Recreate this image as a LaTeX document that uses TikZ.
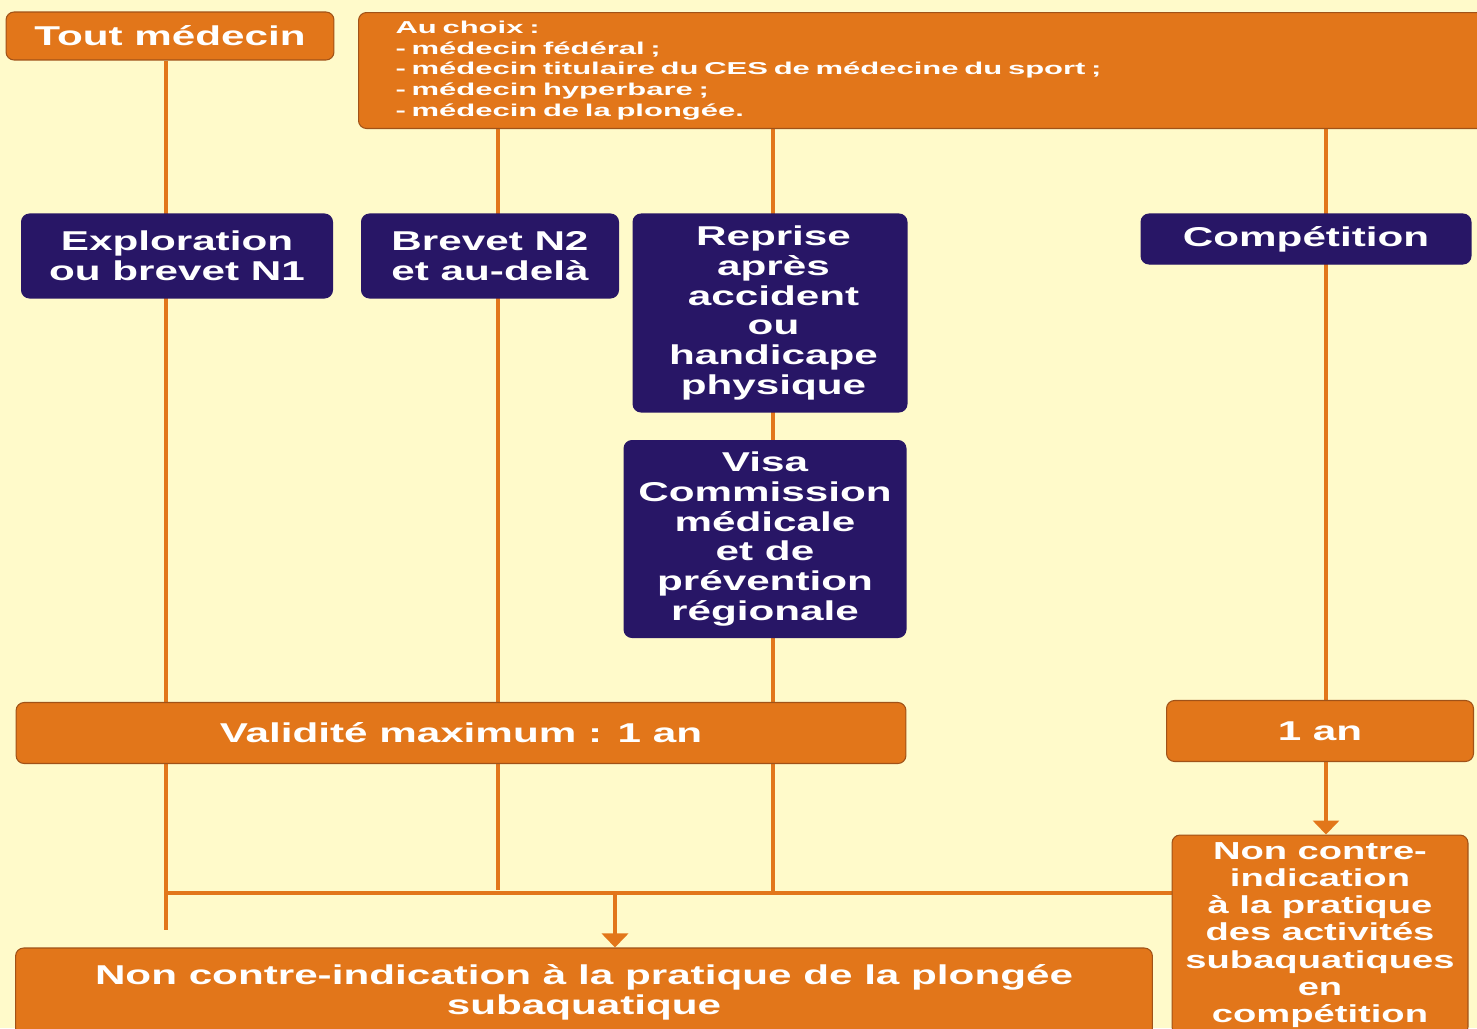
\documentclass[tikz,border=0pt]{standalone}
\usepackage{fontspec}
\setmainfont[FakeStretch=1.55]{Liberation Sans}
\newfontfamily\choixf[FakeStretch=1.8]{Liberation Sans}
\usetikzlibrary{arrows.meta,backgrounds}
\definecolor{fond}{RGB}{255,250,202}
\definecolor{orangef}{RGB}{226,118,26}
\definecolor{brun}{RGB}{160,82,24}
\definecolor{bleu}{RGB}{40,22,102}
\begin{document}
\begin{tikzpicture}
[x=0.02cm, y=-0.02cm, line join=round, >={Triangle[width=0.52cm,length=0.28cm]},
 boite/.style={rounded corners=0.16cm, align=center, text=white, inner sep=0pt, line width=0.6pt},
 orb/.style={boite, fill=orangef, draw=brun},
 blb/.style={boite, fill=bleu, draw=bleu},
 gros/.style={font=\bfseries\fontsize{15.5}{17}\selectfont},
 moyen/.style={font=\bfseries\fontsize{14}{15.5}\selectfont},
 petit/.style={font=\choixf\bfseries\fontsize{9.8}{11.8}\selectfont},
 trait/.style={draw=orangef, line width=2.2pt}]
\useasboundingbox (0,0) rectangle (1477,1028);
\clip (0,0) rectangle (1477,1028);
\node[orb, gros, minimum width=6.56cm, minimum height=0.96cm] (tout) at (170,36) {Tout médecin};
\node[orb, petit, anchor=north west, minimum height=2.32cm, inner xsep=0.74cm, text width=21.5cm, align=left]
  (choix) at (358,12) {Au choix :\\- médecin fédéral ;\\- médecin titulaire du CES de médecine du sport ;\\- médecin hyperbare ;\\- médecin de la plongée.};
\node[blb, gros, minimum width=6.22cm, minimum height=1.68cm] (explo) at (177,256) {Exploration\\ou brevet N1};
\node[blb, gros, minimum width=5.14cm, minimum height=1.68cm] (n2) at (490,256) {Brevet N2\\et au-delà};
\node[blb, gros, minimum width=5.48cm, minimum height=3.96cm] (reprise) at (770,313) {\hspace*{0.14cm}Reprise\\\hspace*{0.14cm}après\\\hspace*{0.14cm}accident\\\hspace*{0.14cm}ou\\\hspace*{0.14cm}handicape\\\hspace*{0.14cm}physique};
\node[blb, gros, minimum width=6.6cm, minimum height=1cm] (compet) at (1306,239) {Compétition};
\node[blb, gros, minimum width=5.64cm, minimum height=3.94cm] (visa) at (765,539) {Visa\\Commission\\médicale\\et de\\prévention\\régionale};
\node[orb, gros, minimum width=17.8cm, minimum height=1.22cm] (valid) at (461,733) {Validité maximum : 1 an};
\node[orb, gros, minimum width=6.14cm, minimum height=1.22cm] (unan) at (1320,731) {1 an};
\node[orb, gros, minimum width=22.74cm, minimum height=1.76cm] (nci) at (584,992) {Non contre-indication à la pratique de la plongée\\subaquatique};
\node[orb, moyen, minimum width=5.92cm, minimum height=4cm] (ncic) at (1320,935) {Non contre-\\indication\\à la pratique\\des activités\\subaquatiques\\en\\compétition};
\coordinate (a) at (166,930);
\coordinate (b) at (498,890);
\coordinate (c) at (773,893);
\coordinate (e) at (1326,0);
\coordinate (bus) at (166,893);
\coordinate (d) at (615,893);
\begin{pgfonlayer}{background}
\fill[fond] (0,0) rectangle (1477,1028);
\draw[trait] (tout.south -| a) -- (a);
\foreach \p in {b,c}
\draw[trait] (choix.south -| \p) -- (\p);
\draw[trait, ->] (choix.south -| e) -- (ncic.north -| e);
\draw[trait] (bus) -- (bus -| ncic.west);
\draw[trait, ->] (d) -- (nci.north -| d);
\end{pgfonlayer}
\end{tikzpicture}
\end{document}
